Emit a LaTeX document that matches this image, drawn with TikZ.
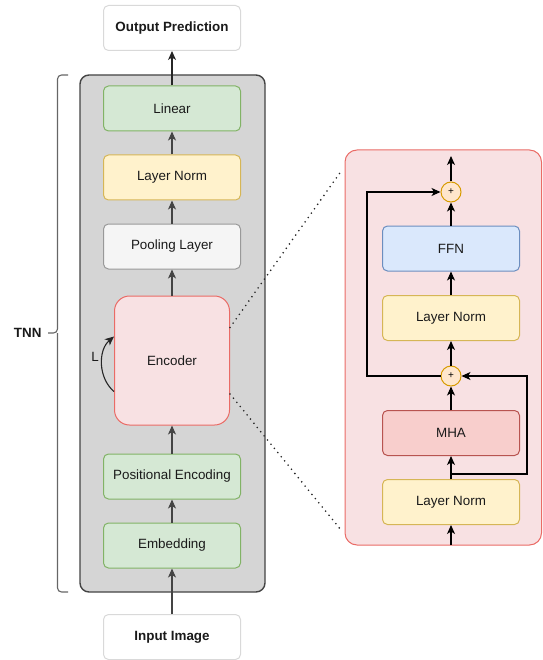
\documentclass[tikz,border=0pt]{standalone}
\usepackage{fontspec}
\setmainfont{Liberation Sans}
\usetikzlibrary{arrows.meta,positioning,calc}
\definecolor{grayfill}{HTML}{D5D5D5}
\definecolor{graystroke}{HTML}{444444}
\definecolor{greenfill}{HTML}{D5E8D4}
\definecolor{greenstroke}{HTML}{82B366}
\definecolor{yellowfill}{HTML}{FFF2CC}
\definecolor{yellowstroke}{HTML}{D6B656}
\definecolor{lightfill}{HTML}{F5F5F5}
\definecolor{lightstroke}{HTML}{999999}
\definecolor{pinkfill}{HTML}{F8E1E3}
\definecolor{pinkstroke}{HTML}{EA6B66}
\definecolor{bluefill}{HTML}{DAE8FC}
\definecolor{bluestroke}{HTML}{6C8EBF}
\definecolor{redfill}{HTML}{F8CECC}
\definecolor{redstroke}{HTML}{B85450}
\definecolor{orangefill}{HTML}{FFE6CC}
\definecolor{orangestroke}{HTML}{D79B00}
\definecolor{txt}{HTML}{1A1A1A}
\tikzset{
  blk/.style={draw, rounded corners=5pt, minimum width=137pt, minimum height=45pt, line width=1pt, inner sep=0pt, font=\fontsize{13.4}{15}\selectfont, text=txt},
  grn/.style={blk, fill=greenfill, draw=greenstroke},
  ylw/.style={blk, fill=yellowfill, draw=yellowstroke},
  lgt/.style={blk, fill=lightfill, draw=lightstroke},
  wht/.style={blk, fill=white, draw=black!15, font=\fontsize{13.4}{15}\selectfont\bfseries},
  blu/.style={blk, fill=bluefill, draw=bluestroke},
  rdd/.style={blk, fill=redfill, draw=redstroke},
  plus/.style={circle, draw=orangestroke, fill=orangefill, line width=1pt, minimum size=20pt, inner sep=0pt, font=\fontsize{10}{11}\selectfont},
  tip/.style={-{Stealth[length=9pt,width=8pt,inset=2.5pt]}},
  garr/.style={tip, draw=graystroke, line width=1.1pt},
  karr/.style={tip, draw=black, line width=1.1pt},
  dotl/.style={line width=1.8pt, dash pattern=on 0pt off 5.4pt, line cap=round, draw=black!85},
}
\begin{document}
\begin{tikzpicture}[x=1pt,y=-1pt]
\useasboundingbox (0,0) rectangle (542,660);
% right panel
\path[fill=pinkfill, draw=pinkstroke, line width=1pt, rounded corners=12pt] (345,150) rectangle (541.5,545);
% gray container
\node[draw=graystroke, fill=grayfill, line width=1.4pt, rounded corners=9pt, minimum width=185pt, minimum height=517pt, inner sep=0pt] (tnn) at (172.5,333.5) {};
% left column
\node[wht] (out) at (172,28) {Output Prediction};
\node[grn] (lin) at (172,108.5) {Linear};
\node[ylw] (ln1) at (172,177.5) {Layer Norm};
\node[lgt] (pool) at (172,246.5) {Pooling Layer};
\node[blk, fill=pinkfill, draw=pinkstroke, rounded corners=15pt, minimum width=115pt, minimum height=129pt] (enc) at (172,360.5) {Encoder};
\node[grn] (pos) at (172,476.5) {Positional Encoding};
\node[grn] (emb) at (172,545.5) {Embedding};
\node[wht] (inp) at (172,637) {Input Image};
% arrows left column
\draw[garr] (inp.north) -- (emb.south);
\draw[garr] (emb.north) -- (pos.south);
\draw[garr] (pos.north) -- (enc.south);
\draw[garr] (enc.north) -- (pool.south);
\draw[garr] (pool.north) -- (ln1.south);
\draw[garr] (ln1.north) -- (lin.south);
\draw[garr, draw=black!85] (lin.north) -- (out.south);
% loop
\coordinate (lpa) at ($(enc.west)+(0,31)$);
\coordinate (lpb) at ($(enc.west)+(0,-24)$);
\draw[tip, draw=black!85, line width=1.1pt] (lpa) .. controls (98,378) and (98,350) .. (lpb);
\node[font=\fontsize{13.4}{15}\selectfont, text=txt] (lbl) at (95,357) {L};
% brace
\draw[draw=black!60, line width=1.1pt, rounded corners=4pt] (68,75) -- (57.5,75) -- (57.5,333) -- (48,333);
\draw[draw=black!60, line width=1.1pt, rounded corners=4pt] (57.5,333) -- (57.5,592) -- (68,592);
\node[font=\fontsize{13.4}{15}\selectfont\bfseries, text=txt, anchor=east] (tnnlbl) at (45,333) {TNN};
% right panel blocks
\node[plus] (p2) at (451,192) {+};
\node[blu] (ffn) at (451,248.5) {FFN};
\node[ylw] (ln2) at (451,318) {Layer Norm};
\node[plus] (p1) at (451,376) {+};
\node[rdd] (mha) at (451,433) {MHA};
\node[ylw] (ln3) at (451,502) {Layer Norm};
\coordinate (top) at (451,156);
\coordinate (bot) at (451,545);
\coordinate (split) at (451,474);
\draw[karr] (bot) -- (ln3.south);
\draw[karr] (ln3.north) -- (mha.south);
\draw[karr] (mha.north) -- (p1.south);
\draw[karr] (p1.north) -- (ln2.south);
\draw[karr] (ln2.north) -- (ffn.south);
\draw[karr] (ffn.north) -- (p2.south);
\draw[karr] (p2.north) -- (top);
\draw[karr] (split) -- (527,474) -- (527,376) -- (p1.east);
\draw[karr] (p1.west) -- (367,376) -- (367,192) -- (p2.west);
% dotted
\coordinate (d1) at (342,170);
\coordinate (d2) at (341,530);
\draw[dotl] ($(enc.east)+(0,-33)$) -- (d1);
\draw[dotl] ($(enc.east)+(0,33.5)$) -- (d2);
\end{tikzpicture}
\end{document}
